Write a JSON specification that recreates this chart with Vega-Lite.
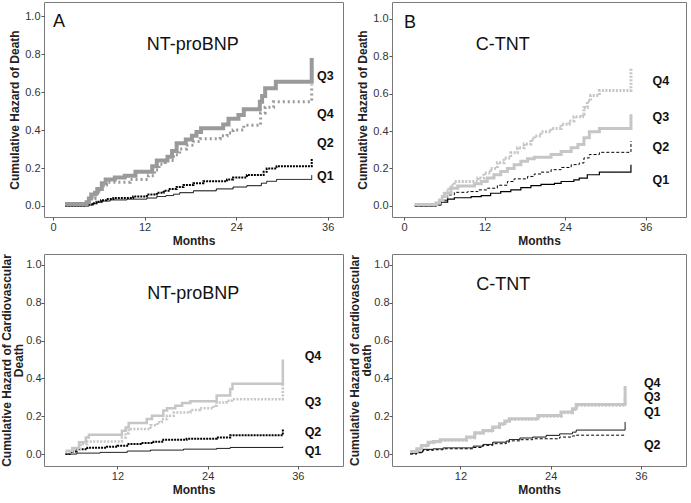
{
  "$schema": "https://vega.github.io/schema/vega-lite/v6.json",
  "background": "white",
  "padding": {"left": 0, "top": 1, "right": 0, "bottom": 0},
  "config": {
    "view": {"stroke": "#7a7a7a", "strokeWidth": 1},
    "axis": {"labelFont": "Liberation Sans", "labelFontSize": 11, "labelColor": "#333333", "titleFont": "Liberation Sans", "titleFontSize": 12, "titleFontWeight": "bold", "titleColor": "#222222", "grid": false, "domain": false, "tickColor": "#555555", "tickSize": 3, "labelPadding": 1, "titlePadding": 3, "minExtent": 0},
    "text": {"font": "Liberation Sans"}
  },
  "datasets": {
    "A": [
      {"q":"Q1","m":1.6,"h":0},{"q":"Q1","m":4.4,"h":0.005},{"q":"Q1","m":5.1,"h":0.012},{"q":"Q1","m":5.7,"h":0.02},{"q":"Q1","m":6.5,"h":0.026},{"q":"Q1","m":7.5,"h":0.032},{"q":"Q1","m":9.7,"h":0.036},{"q":"Q1","m":12.3,"h":0.042},{"q":"Q1","m":13.6,"h":0.05},{"q":"Q1","m":14.8,"h":0.055},{"q":"Q1","m":15.8,"h":0.062},{"q":"Q1","m":16.6,"h":0.07},{"q":"Q1","m":18.4,"h":0.08},{"q":"Q1","m":21.4,"h":0.09},{"q":"Q1","m":23.6,"h":0.1},{"q":"Q1","m":25.4,"h":0.107},{"q":"Q1","m":27.3,"h":0.12},{"q":"Q1","m":28,"h":0.13},{"q":"Q1","m":29.3,"h":0.14},{"q":"Q1","m":33.9,"h":0.163},
      {"q":"Q2","m":1.6,"h":0.003},{"q":"Q2","m":4.6,"h":0.008},{"q":"Q2","m":5.2,"h":0.015},{"q":"Q2","m":5.7,"h":0.022},{"q":"Q2","m":6.3,"h":0.03},{"q":"Q2","m":7,"h":0.037},{"q":"Q2","m":7.9,"h":0.042},{"q":"Q2","m":10.5,"h":0.05},{"q":"Q2","m":12.3,"h":0.06},{"q":"Q2","m":13.6,"h":0.07},{"q":"Q2","m":14.5,"h":0.08},{"q":"Q2","m":15.3,"h":0.09},{"q":"Q2","m":16.2,"h":0.1},{"q":"Q2","m":17.1,"h":0.11},{"q":"Q2","m":18.4,"h":0.12},{"q":"Q2","m":19.7,"h":0.13},{"q":"Q2","m":22.8,"h":0.14},{"q":"Q2","m":23.6,"h":0.15},{"q":"Q2","m":25.4,"h":0.163},{"q":"Q2","m":27.6,"h":0.18},{"q":"Q2","m":28,"h":0.198},{"q":"Q2","m":29.3,"h":0.21},{"q":"Q2","m":33.9,"h":0.25},
      {"q":"Q3","m":1.6,"h":0.01},{"q":"Q3","m":4.4,"h":0.02},{"q":"Q3","m":4.7,"h":0.04},{"q":"Q3","m":5,"h":0.06},{"q":"Q3","m":5.5,"h":0.07},{"q":"Q3","m":5.8,"h":0.09},{"q":"Q3","m":6.4,"h":0.12},{"q":"Q3","m":6.9,"h":0.14},{"q":"Q3","m":8.1,"h":0.15},{"q":"Q3","m":9.4,"h":0.16},{"q":"Q3","m":10.8,"h":0.18},{"q":"Q3","m":13,"h":0.21},{"q":"Q3","m":13.6,"h":0.24},{"q":"Q3","m":15,"h":0.26},{"q":"Q3","m":15.6,"h":0.29},{"q":"Q3","m":16.2,"h":0.33},{"q":"Q3","m":17.4,"h":0.35},{"q":"Q3","m":18.2,"h":0.37},{"q":"Q3","m":18.8,"h":0.39},{"q":"Q3","m":19.4,"h":0.41},{"q":"Q3","m":22.3,"h":0.43},{"q":"Q3","m":23,"h":0.46},{"q":"Q3","m":24.3,"h":0.48},{"q":"Q3","m":25,"h":0.51},{"q":"Q3","m":27.1,"h":0.55},{"q":"Q3","m":27.4,"h":0.58},{"q":"Q3","m":27.8,"h":0.62},{"q":"Q3","m":29.2,"h":0.655},{"q":"Q3","m":33.9,"h":0.78},
      {"q":"Q4","m":1.6,"h":0.01},{"q":"Q4","m":4.6,"h":0.02},{"q":"Q4","m":5,"h":0.04},{"q":"Q4","m":5.5,"h":0.06},{"q":"Q4","m":6,"h":0.09},{"q":"Q4","m":6.6,"h":0.11},{"q":"Q4","m":7,"h":0.125},{"q":"Q4","m":10.1,"h":0.14},{"q":"Q4","m":12.5,"h":0.16},{"q":"Q4","m":13.3,"h":0.19},{"q":"Q4","m":13.9,"h":0.22},{"q":"Q4","m":14.7,"h":0.24},{"q":"Q4","m":15.8,"h":0.27},{"q":"Q4","m":16.6,"h":0.3},{"q":"Q4","m":17.5,"h":0.32},{"q":"Q4","m":18.4,"h":0.34},{"q":"Q4","m":19.3,"h":0.355},{"q":"Q4","m":21.9,"h":0.37},{"q":"Q4","m":22.8,"h":0.385},{"q":"Q4","m":23.6,"h":0.4},{"q":"Q4","m":25,"h":0.425},{"q":"Q4","m":27.2,"h":0.49},{"q":"Q4","m":27.8,"h":0.52},{"q":"Q4","m":28.9,"h":0.55},{"q":"Q4","m":33.9,"h":0.64}
    ],
    "B": [
      {"q":"Q1","m":1.6,"h":0},{"q":"Q1","m":4.8,"h":0.005},{"q":"Q1","m":5.5,"h":0.02},{"q":"Q1","m":6.5,"h":0.036},{"q":"Q1","m":7.5,"h":0.043},{"q":"Q1","m":10,"h":0.049},{"q":"Q1","m":11.5,"h":0.054},{"q":"Q1","m":12.9,"h":0.067},{"q":"Q1","m":14.4,"h":0.076},{"q":"Q1","m":15.9,"h":0.085},{"q":"Q1","m":17.4,"h":0.097},{"q":"Q1","m":18.9,"h":0.108},{"q":"Q1","m":20.4,"h":0.115},{"q":"Q1","m":22.4,"h":0.12},{"q":"Q1","m":23.4,"h":0.13},{"q":"Q1","m":25.3,"h":0.139},{"q":"Q1","m":26.1,"h":0.148},{"q":"Q1","m":27.3,"h":0.166},{"q":"Q1","m":29.1,"h":0.18},{"q":"Q1","m":33.8,"h":0.22},
      {"q":"Q2","m":1.6,"h":0},{"q":"Q2","m":4.8,"h":0.005},{"q":"Q2","m":5.5,"h":0.03},{"q":"Q2","m":6.5,"h":0.058},{"q":"Q2","m":7.5,"h":0.072},{"q":"Q2","m":9.5,"h":0.076},{"q":"Q2","m":11,"h":0.085},{"q":"Q2","m":12.4,"h":0.094},{"q":"Q2","m":13.9,"h":0.11},{"q":"Q2","m":15.4,"h":0.13},{"q":"Q2","m":16.4,"h":0.144},{"q":"Q2","m":18.4,"h":0.157},{"q":"Q2","m":19.4,"h":0.17},{"q":"Q2","m":20.4,"h":0.18},{"q":"Q2","m":21.9,"h":0.193},{"q":"Q2","m":23.4,"h":0.205},{"q":"Q2","m":24.9,"h":0.22},{"q":"Q2","m":26.1,"h":0.229},{"q":"Q2","m":26.8,"h":0.256},{"q":"Q2","m":27.6,"h":0.274},{"q":"Q2","m":29.1,"h":0.286},{"q":"Q2","m":33.8,"h":0.346},
      {"q":"Q3","m":1.6,"h":0.007},{"q":"Q3","m":4.8,"h":0.015},{"q":"Q3","m":5.3,"h":0.03},{"q":"Q3","m":5.7,"h":0.05},{"q":"Q3","m":6,"h":0.067},{"q":"Q3","m":7,"h":0.094},{"q":"Q3","m":8,"h":0.106},{"q":"Q3","m":10.5,"h":0.118},{"q":"Q3","m":11.5,"h":0.13},{"q":"Q3","m":12.4,"h":0.148},{"q":"Q3","m":13.4,"h":0.166},{"q":"Q3","m":14.4,"h":0.184},{"q":"Q3","m":15.4,"h":0.2},{"q":"Q3","m":16.4,"h":0.22},{"q":"Q3","m":17.4,"h":0.238},{"q":"Q3","m":18.4,"h":0.252},{"q":"Q3","m":19.4,"h":0.26},{"q":"Q3","m":21.9,"h":0.274},{"q":"Q3","m":23.4,"h":0.29},{"q":"Q3","m":24.9,"h":0.31},{"q":"Q3","m":25.9,"h":0.328},{"q":"Q3","m":26.8,"h":0.364},{"q":"Q3","m":27.6,"h":0.396},{"q":"Q3","m":29.1,"h":0.414},{"q":"Q3","m":33.8,"h":0.49},
      {"q":"Q4","m":1.6,"h":0.007},{"q":"Q4","m":4.8,"h":0.015},{"q":"Q4","m":5.3,"h":0.03},{"q":"Q4","m":5.8,"h":0.05},{"q":"Q4","m":6.3,"h":0.08},{"q":"Q4","m":6.7,"h":0.1},{"q":"Q4","m":7,"h":0.11},{"q":"Q4","m":7.5,"h":0.13},{"q":"Q4","m":11,"h":0.148},{"q":"Q4","m":11.9,"h":0.175},{"q":"Q4","m":12.9,"h":0.2},{"q":"Q4","m":13.9,"h":0.23},{"q":"Q4","m":14.9,"h":0.256},{"q":"Q4","m":15.9,"h":0.283},{"q":"Q4","m":16.9,"h":0.31},{"q":"Q4","m":17.9,"h":0.33},{"q":"Q4","m":18.9,"h":0.355},{"q":"Q4","m":19.4,"h":0.373},{"q":"Q4","m":20.4,"h":0.396},{"q":"Q4","m":21.9,"h":0.414},{"q":"Q4","m":23.4,"h":0.436},{"q":"Q4","m":24.6,"h":0.454},{"q":"Q4","m":25.3,"h":0.476},{"q":"Q4","m":26.6,"h":0.49},{"q":"Q4","m":26.8,"h":0.526},{"q":"Q4","m":27.3,"h":0.56},{"q":"Q4","m":27.8,"h":0.59},{"q":"Q4","m":29.1,"h":0.616},{"q":"Q4","m":33.8,"h":0.733}
    ],
    "C": [
      {"q":"Q1","m":5.1,"h":0},{"q":"Q1","m":6.6,"h":0.005},{"q":"Q1","m":9.7,"h":0.009},{"q":"Q1","m":13.3,"h":0.016},{"q":"Q1","m":16.4,"h":0.021},{"q":"Q1","m":20.8,"h":0.026},{"q":"Q1","m":25.2,"h":0.03},{"q":"Q1","m":27,"h":0.035},{"q":"Q1","m":34,"h":0.04},
      {"q":"Q2","m":5.1,"h":0},{"q":"Q2","m":5.8,"h":0.014},{"q":"Q2","m":6.6,"h":0.026},{"q":"Q2","m":8,"h":0.034},{"q":"Q2","m":10.6,"h":0.039},{"q":"Q2","m":12,"h":0.044},{"q":"Q2","m":13.3,"h":0.053},{"q":"Q2","m":15.1,"h":0.058},{"q":"Q2","m":16.8,"h":0.065},{"q":"Q2","m":18.1,"h":0.076},{"q":"Q2","m":21.2,"h":0.081},{"q":"Q2","m":25.2,"h":0.088},{"q":"Q2","m":27,"h":0.1},{"q":"Q2","m":34,"h":0.132},
      {"q":"Q3","m":5.1,"h":0.01},{"q":"Q3","m":6,"h":0.026},{"q":"Q3","m":7.1,"h":0.053},{"q":"Q3","m":8,"h":0.067},{"q":"Q3","m":12.6,"h":0.088},{"q":"Q3","m":13.1,"h":0.11},{"q":"Q3","m":13.5,"h":0.132},{"q":"Q3","m":16.4,"h":0.153},{"q":"Q3","m":17.3,"h":0.168},{"q":"Q3","m":17.9,"h":0.185},{"q":"Q3","m":18.6,"h":0.203},{"q":"Q3","m":19.5,"h":0.22},{"q":"Q3","m":21.7,"h":0.233},{"q":"Q3","m":23,"h":0.242},{"q":"Q3","m":24.8,"h":0.256},{"q":"Q3","m":25.2,"h":0.273},{"q":"Q3","m":26.5,"h":0.282},{"q":"Q3","m":27.2,"h":0.29},{"q":"Q3","m":34,"h":0.365},
      {"q":"Q4","m":5.1,"h":0.018},{"q":"Q4","m":6,"h":0.032},{"q":"Q4","m":6.9,"h":0.062},{"q":"Q4","m":7.8,"h":0.088},{"q":"Q4","m":8.2,"h":0.102},{"q":"Q4","m":12.6,"h":0.123},{"q":"Q4","m":13.1,"h":0.14},{"q":"Q4","m":13.5,"h":0.164},{"q":"Q4","m":15.9,"h":0.185},{"q":"Q4","m":16.6,"h":0.203},{"q":"Q4","m":18.1,"h":0.23},{"q":"Q4","m":18.6,"h":0.242},{"q":"Q4","m":19.7,"h":0.256},{"q":"Q4","m":20.6,"h":0.27},{"q":"Q4","m":21.7,"h":0.28},{"q":"Q4","m":25.2,"h":0.31},{"q":"Q4","m":27,"h":0.344},{"q":"Q4","m":27.3,"h":0.372},{"q":"Q4","m":34,"h":0.5}
    ],
    "D": [
      {"q":"Q1","m":5.3,"h":0.004},{"q":"Q1","m":6.2,"h":0.01},{"q":"Q1","m":7,"h":0.025},{"q":"Q1","m":8.4,"h":0.028},{"q":"Q1","m":9.7,"h":0.033},{"q":"Q1","m":13.7,"h":0.042},{"q":"Q1","m":15,"h":0.051},{"q":"Q1","m":16.3,"h":0.063},{"q":"Q1","m":18.1,"h":0.069},{"q":"Q1","m":18.5,"h":0.077},{"q":"Q1","m":19.9,"h":0.085},{"q":"Q1","m":21.6,"h":0.09},{"q":"Q1","m":23.4,"h":0.099},{"q":"Q1","m":25.2,"h":0.107},{"q":"Q1","m":26.9,"h":0.116},{"q":"Q1","m":27.4,"h":0.127},{"q":"Q1","m":33.9,"h":0.17},
      {"q":"Q2","m":5.3,"h":0},{"q":"Q2","m":6.2,"h":0.007},{"q":"Q2","m":7,"h":0.02},{"q":"Q2","m":8.4,"h":0.023},{"q":"Q2","m":9.7,"h":0.028},{"q":"Q2","m":13.7,"h":0.035},{"q":"Q2","m":15,"h":0.046},{"q":"Q2","m":16.3,"h":0.055},{"q":"Q2","m":18.1,"h":0.063},{"q":"Q2","m":18.5,"h":0.07},{"q":"Q2","m":19.9,"h":0.076},{"q":"Q2","m":21.6,"h":0.081},{"q":"Q2","m":25.2,"h":0.09},{"q":"Q2","m":26.9,"h":0.096},{"q":"Q2","m":27.4,"h":0.1},{"q":"Q2","m":33.9,"h":0.105},
      {"q":"Q3","m":5.3,"h":0.012},{"q":"Q3","m":6.2,"h":0.025},{"q":"Q3","m":6.8,"h":0.043},{"q":"Q3","m":7.7,"h":0.06},{"q":"Q3","m":8.4,"h":0.065},{"q":"Q3","m":9.3,"h":0.073},{"q":"Q3","m":12.8,"h":0.087},{"q":"Q3","m":13.9,"h":0.11},{"q":"Q3","m":15,"h":0.122},{"q":"Q3","m":16.3,"h":0.14},{"q":"Q3","m":17.2,"h":0.157},{"q":"Q3","m":17.9,"h":0.172},{"q":"Q3","m":18.5,"h":0.184},{"q":"Q3","m":22.3,"h":0.2},{"q":"Q3","m":25.4,"h":0.218},{"q":"Q3","m":26.9,"h":0.236},{"q":"Q3","m":27.4,"h":0.258},{"q":"Q3","m":33.9,"h":0.3},
      {"q":"Q4","m":5.3,"h":0.014},{"q":"Q4","m":6.2,"h":0.028},{"q":"Q4","m":6.8,"h":0.046},{"q":"Q4","m":7.7,"h":0.063},{"q":"Q4","m":8.4,"h":0.067},{"q":"Q4","m":9.3,"h":0.076},{"q":"Q4","m":12.8,"h":0.09},{"q":"Q4","m":13.9,"h":0.113},{"q":"Q4","m":15,"h":0.125},{"q":"Q4","m":16.3,"h":0.143},{"q":"Q4","m":17.2,"h":0.16},{"q":"Q4","m":17.9,"h":0.175},{"q":"Q4","m":18.5,"h":0.187},{"q":"Q4","m":22.3,"h":0.204},{"q":"Q4","m":25.4,"h":0.222},{"q":"Q4","m":26.9,"h":0.24},{"q":"Q4","m":27.4,"h":0.262},{"q":"Q4","m":33.9,"h":0.36}
    ],
    "tA": [{"t":"Q3","m":34.6,"h":0.685,"k":"q"},{"t":"Q4","m":34.6,"h":0.484,"k":"q"},{"t":"Q2","m":34.6,"h":0.33,"k":"q"},{"t":"Q1","m":34.6,"h":0.157,"k":"q"},{"t":"A","m":0,"h":0.97,"k":"big"},{"t":"NT-proBNP","m":18.3,"h":0.85,"k":"title"}],
    "tB": [{"t":"Q4","m":37.0,"h":0.67,"k":"q"},{"t":"Q3","m":37.0,"h":0.476,"k":"q"},{"t":"Q2","m":37.0,"h":0.313,"k":"q"},{"t":"Q1","m":37.0,"h":0.14,"k":"q"},{"t":"B","m":0,"h":0.98,"k":"big"},{"t":"C-TNT","m":14.7,"h":0.86,"k":"title"}],
    "tC": [{"t":"Q4","m":36.9,"h":0.518,"k":"q"},{"t":"Q3","m":36.9,"h":0.275,"k":"q"},{"t":"Q2","m":36.9,"h":0.116,"k":"q"},{"t":"Q1","m":36.9,"h":0.016,"k":"q"},{"t":"NT-proBNP","m":22.1,"h":0.847,"k":"title"}],
    "tD": [{"t":"Q4","m":36.4,"h":0.378,"k":"q"},{"t":"Q3","m":36.4,"h":0.303,"k":"q"},{"t":"Q1","m":36.4,"h":0.222,"k":"q"},{"t":"Q2","m":36.4,"h":0.048,"k":"q"},{"t":"C-TNT","m":17.7,"h":0.894,"k":"title"}]
  },
  "columns": 2,
  "spacing": {"row": 6, "column": 4},
  "resolve": {"scale": {"color": "independent", "strokeDash": "independent", "strokeWidth": "independent"}},
  "concat": [
    {
      "width": 299, "height": 215,
      "encoding": {
        "x": {"field": "m", "type": "quantitative", "scale": {"domain": [-1.18, 38], "nice": false, "zero": false}, "axis": {"values": [0, 12, 24, 36], "title": "Months"}},
        "y": {"field": "h", "type": "quantitative", "scale": {"domain": [-0.058, 1.075], "nice": false, "zero": false}, "axis": {"values": [0, 0.2, 0.4, 0.6, 0.8, 1], "format": ".1f", "title": "Cumulative Hazard of Death"}}
      },
      "layer": [
        {"data": {"name": "A"}, "mark": {"type": "line", "interpolate": "step-after"},
         "encoding": {
           "color": {"field": "q", "type": "nominal", "scale": {"domain": ["Q1", "Q2", "Q3", "Q4"], "range": ["#000000", "#000000", "#9a9a9a", "#9a9a9a"]}, "legend": null},
           "strokeWidth": {"field": "q", "type": "nominal", "scale": {"type": "ordinal", "domain": ["Q1", "Q2", "Q3", "Q4"], "range": [1, 2, 4, 3]}, "legend": null},
           "strokeDash": {"field": "q", "type": "nominal", "scale": {"domain": ["Q1", "Q2", "Q3", "Q4"], "range": [[1, 0], [2, 1], [1, 0], [2, 3]]}, "legend": null}
         }},
        {"data": {"name": "tA"}, "transform": [{"filter": "datum.k == 'q'"}], "mark": {"type": "text", "align": "left", "baseline": "middle", "fontSize": 12.5, "fontWeight": "bold", "color": "#111111"}, "encoding": {"text": {"field": "t"}}},
        {"data": {"name": "tA"}, "transform": [{"filter": "datum.k == 'big'"}], "mark": {"type": "text", "align": "left", "baseline": "middle", "fontSize": 18, "color": "#111111"}, "encoding": {"text": {"field": "t"}}},
        {"data": {"name": "tA"}, "transform": [{"filter": "datum.k == 'title'"}], "mark": {"type": "text", "align": "center", "baseline": "middle", "fontSize": 18, "color": "#111111"}, "encoding": {"text": {"field": "t"}}}
      ]
    },
    {
      "width": 294, "height": 215,
      "encoding": {
        "x": {"field": "m", "type": "quantitative", "scale": {"domain": [-1.79, 42], "nice": false, "zero": false}, "axis": {"values": [0, 12, 24, 36], "title": "Months"}},
        "y": {"field": "h", "type": "quantitative", "scale": {"domain": [-0.06, 1.09], "nice": false, "zero": false}, "axis": {"values": [0, 0.2, 0.4, 0.6, 0.8, 1], "format": ".1f", "title": "Cumulative Hazard of Death"}}
      },
      "layer": [
        {"data": {"name": "B"}, "mark": {"type": "line", "interpolate": "step-after"},
         "encoding": {
           "color": {"field": "q", "type": "nominal", "scale": {"domain": ["Q1", "Q2", "Q3", "Q4"], "range": ["#000000", "#000000", "#c6c6c6", "#c6c6c6"]}, "legend": null},
           "strokeWidth": {"field": "q", "type": "nominal", "scale": {"type": "ordinal", "domain": ["Q1", "Q2", "Q3", "Q4"], "range": [1.2, 1, 3, 3]}, "legend": null},
           "strokeDash": {"field": "q", "type": "nominal", "scale": {"domain": ["Q1", "Q2", "Q3", "Q4"], "range": [[1, 0], [3, 2], [1, 0], [2, 1.5]]}, "legend": null}
         }},
        {"data": {"name": "tB"}, "transform": [{"filter": "datum.k == 'q'"}], "mark": {"type": "text", "align": "left", "baseline": "middle", "fontSize": 12.5, "fontWeight": "bold", "color": "#111111"}, "encoding": {"text": {"field": "t"}}},
        {"data": {"name": "tB"}, "transform": [{"filter": "datum.k == 'big'"}], "mark": {"type": "text", "align": "left", "baseline": "middle", "fontSize": 18, "color": "#111111"}, "encoding": {"text": {"field": "t"}}},
        {"data": {"name": "tB"}, "transform": [{"filter": "datum.k == 'title'"}], "mark": {"type": "text", "align": "center", "baseline": "middle", "fontSize": 18, "color": "#111111"}, "encoding": {"text": {"field": "t"}}}
      ]
    },
    {
      "width": 299, "height": 212,
      "encoding": {
        "x": {"field": "m", "type": "quantitative", "scale": {"domain": [2.24, 42], "nice": false, "zero": false}, "axis": {"values": [12, 24, 36], "title": "Months"}},
        "y": {"field": "h", "type": "quantitative", "scale": {"domain": [-0.063, 1.058], "nice": false, "zero": false}, "axis": {"values": [0, 0.2, 0.4, 0.6, 0.8, 1], "format": ".1f", "title": ["Cumulative Hazard of Cardiovascular", "Death"], "titleLineHeight": 12, "titlePadding": 0, "labelPadding": 0}}
      },
      "layer": [
        {"data": {"name": "C"}, "mark": {"type": "line", "interpolate": "step-after"},
         "encoding": {
           "color": {"field": "q", "type": "nominal", "scale": {"domain": ["Q1", "Q2", "Q3", "Q4"], "range": ["#000000", "#000000", "#c6c6c6", "#c6c6c6"]}, "legend": null},
           "strokeWidth": {"field": "q", "type": "nominal", "scale": {"type": "ordinal", "domain": ["Q1", "Q2", "Q3", "Q4"], "range": [1, 2, 2.5, 2.5]}, "legend": null},
           "strokeDash": {"field": "q", "type": "nominal", "scale": {"domain": ["Q1", "Q2", "Q3", "Q4"], "range": [[1, 0], [2, 1], [2, 1.5], [1, 0]]}, "legend": null}
         }},
        {"data": {"name": "tC"}, "transform": [{"filter": "datum.k == 'q'"}], "mark": {"type": "text", "align": "left", "baseline": "middle", "fontSize": 12.5, "fontWeight": "bold", "color": "#111111"}, "encoding": {"text": {"field": "t"}}},
        {"data": {"name": "tC"}, "transform": [{"filter": "datum.k == 'title'"}], "mark": {"type": "text", "align": "center", "baseline": "middle", "fontSize": 18, "color": "#111111"}, "encoding": {"text": {"field": "t"}}}
      ]
    },
    {
      "width": 294, "height": 212,
      "encoding": {
        "x": {"field": "m", "type": "quantitative", "scale": {"domain": [2.9, 42], "nice": false, "zero": false}, "axis": {"values": [12, 24, 36], "title": "Months"}},
        "y": {"field": "h", "type": "quantitative", "scale": {"domain": [-0.063, 1.058], "nice": false, "zero": false}, "axis": {"values": [0, 0.2, 0.4, 0.6, 0.8, 1], "format": ".1f", "title": ["Cumulative Hazard of cardiovascular", "death"], "titleLineHeight": 12, "titlePadding": 0, "labelPadding": 0}}
      },
      "layer": [
        {"data": {"name": "D"}, "mark": {"type": "line", "interpolate": "step-after"},
         "encoding": {
           "color": {"field": "q", "type": "nominal", "scale": {"domain": ["Q1", "Q2", "Q3", "Q4"], "range": ["#000000", "#000000", "#c6c6c6", "#c6c6c6"]}, "legend": null},
           "strokeWidth": {"field": "q", "type": "nominal", "scale": {"type": "ordinal", "domain": ["Q1", "Q2", "Q3", "Q4"], "range": [1, 1, 3, 3]}, "legend": null},
           "strokeDash": {"field": "q", "type": "nominal", "scale": {"domain": ["Q1", "Q2", "Q3", "Q4"], "range": [[1, 0], [3, 2], [2, 1.5], [1, 0]]}, "legend": null}
         }},
        {"data": {"name": "tD"}, "transform": [{"filter": "datum.k == 'q'"}], "mark": {"type": "text", "align": "left", "baseline": "middle", "fontSize": 12.5, "fontWeight": "bold", "color": "#111111"}, "encoding": {"text": {"field": "t"}}},
        {"data": {"name": "tD"}, "transform": [{"filter": "datum.k == 'title'"}], "mark": {"type": "text", "align": "center", "baseline": "middle", "fontSize": 18, "color": "#111111"}, "encoding": {"text": {"field": "t"}}}
      ]
    }
  ]
}
